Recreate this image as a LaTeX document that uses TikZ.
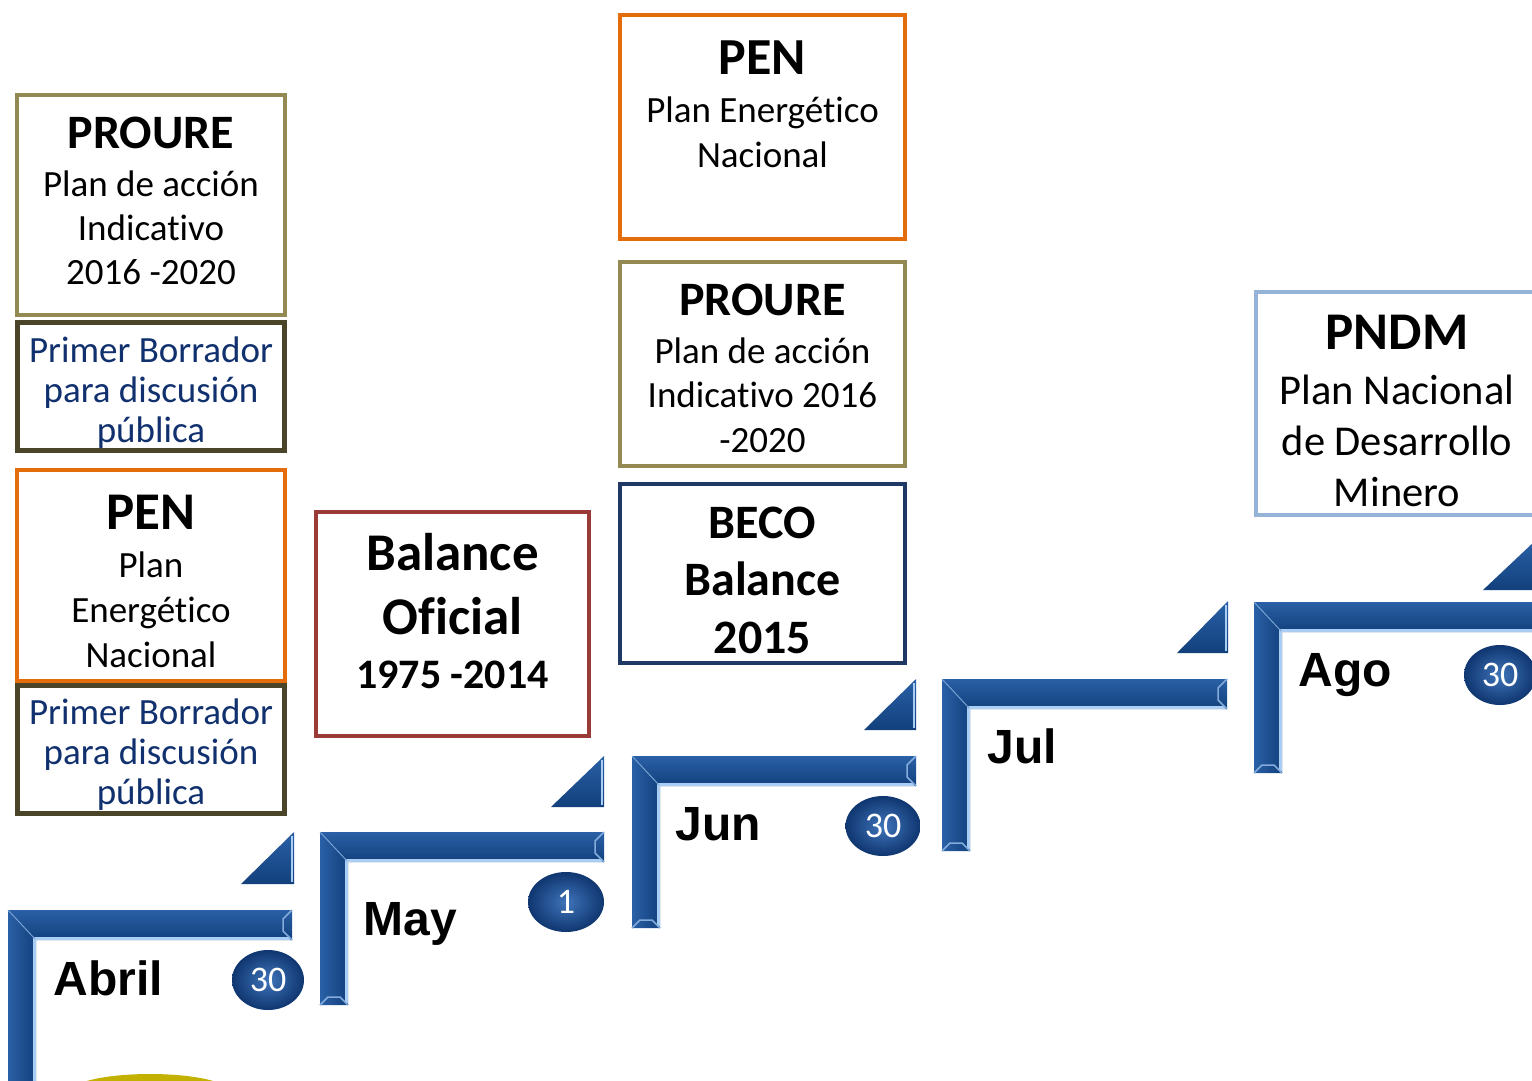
\documentclass[tikz,border=0pt]{standalone}
\usepackage{fontspec}
\setmainfont{Carlito}[Ligatures=NoCommon]
\newfontfamily\monthfont{Liberation Sans}
\usepackage{tikz}
\usetikzlibrary{shapes.geometric, calc}

\definecolor{proureolive}{HTML}{938953}
\definecolor{draftolive}{HTML}{4A4529}
\definecolor{penorange}{HTML}{E46C0A}
\definecolor{balancered}{HTML}{9B3B38}
\definecolor{beconavy}{HTML}{1F3864}
\definecolor{pndmblue}{HTML}{95B3D7}
\definecolor{drafttext}{HTML}{10306E}
\definecolor{bardark}{HTML}{12407C}
\definecolor{barmid}{HTML}{2A60A6}
\definecolor{barlight}{HTML}{A9CDF3}
\definecolor{balllight}{HTML}{3F74BA}
\definecolor{balldark}{HTML}{0F3670}
\definecolor{arcyellow}{HTML}{C2B100}

\newcommand{\boxhead}[2]{{\fontsize{#1}{#1}\selectfont\bfseries #2}}

\tikzset{
  plainbox/.style={draw, line width=4pt, inner sep=0pt, outer sep=0pt, fill=white},
  draftbox/.style={plainbox, draw=draftolive, line width=5pt,
    minimum width=267pt, minimum height=128pt},
  boxtext/.style={align=center, inner sep=0pt},
  drafttext/.style={boxtext, text=drafttext, font=\fontsize{37}{40}\selectfont},
  month/.style={anchor=base west, font=\monthfont\bfseries\fontsize{48}{48}\selectfont},
  daydot/.style={ellipse, shading=radial, inner color=balllight, outer color=balldark,
    text=white, inner sep=0pt, minimum width=72pt, minimum height=60pt,
    font=\fontsize{36}{36}\selectfont}
}

\begin{document}
\begin{tikzpicture}[x=1pt,y=-1pt]
  \useasboundingbox (0,0) rectangle (1532,1080);
  \clip (0,0) rectangle (1532,1080);

  % yellow arc at the bottom
  \fill[arcyellow] (150,1092) ellipse (80 and 18);

  % Define boxes
  \node[plainbox, draw=proureolive, minimum width=268pt, minimum height=220pt] (proureA) at (151,205) {};
  \node[draftbox] (draftA) at (151,386.5) {};
  \node[plainbox, draw=penorange, minimum width=268pt, minimum height=211pt] (penA) at (151,575.5) {};
  \node[draftbox] (draftB) at (151,749.5) {};
  \node[plainbox, draw=balancered, minimum width=273pt, minimum height=224pt] (balance) at (452.5,624) {};
  \node[plainbox, draw=penorange, minimum width=285pt, minimum height=224pt] (penB) at (762.5,127) {};
  \node[plainbox, draw=proureolive, minimum width=285pt, minimum height=204pt] (proureB) at (762.5,364) {};
  \node[plainbox, draw=beconavy, minimum width=285pt, minimum height=179pt] (beco) at (762.5,573.5) {};
  \node[plainbox, draw=pndmblue, minimum width=282pt, minimum height=223pt] (pndm) at (1397,403.5) {};

  % Box texts
  \node[boxtext, font=\fontsize{37}{44}\selectfont] (proureAtext) at ([yshift=4pt]proureA.center)
    {\boxhead{48}{PROURE}\\[3.5pt] Plan de acción\\ Indicativo\\ 2016 -2020};
  \node[drafttext] (draftAtext) at ([yshift=-6pt]draftA.center) {Primer Borrador\\ para discusión\\ pública};
  \node[boxtext, font=\fontsize{37}{45}\selectfont] (penAtext) at ([yshift=-5.5pt]penA.center)
    {\boxhead{53}{PEN}\\[3pt] Plan\\ Energético\\ Nacional};
  \node[drafttext] (draftBtext) at ([yshift=-5.5pt]draftB.center) {Primer Borrador\\ para discusión\\ pública};
  \node[boxtext, font=\bfseries\fontsize{42}{54}\selectfont] (balancetext) at ([yshift=12.5pt]balance.center)
    {\boxhead{53}{Balance}\\[10pt] \boxhead{53}{Oficial}\\ 1975 -2014};
  \node[boxtext, font=\fontsize{37}{45}\selectfont] (penBtext) at ([yshift=23pt]penB.center)
    {\boxhead{52}{PEN}\\[3pt] Plan Energético\\ Nacional};
  \node[boxtext, font=\fontsize{37}{44.5}\selectfont] (proureBtext) at ([yshift=-4.5pt]proureB.center)
    {\boxhead{48}{PROURE}\\[3pt] Plan de acción\\ Indicativo 2016\\ -2020};
  \node[boxtext, font=\bfseries\fontsize{48}{57.5}\selectfont] (becotext) at ([yshift=-6.5pt]beco.center)
    {BECO\\ Balance\\ 2015};
  \node[boxtext, font=\fontsize{42.5}{51}\selectfont] (pndmtext) at ([yshift=-7.5pt]pndm.center)
    {\boxhead{53}{PNDM}\\[4pt] Plan Nacional\\ de Desarrollo\\ Minero};

  % Steps
  \foreach \xa/\ya/\xb/\yb in {8/910/292/1090, 320/832/604/1005, 632/756/916/928,
                               942/679/1227/851, 1254/602/1545/773} {
    \shade[top color=barmid, bottom color=bardark]
      (\xa,\ya) -- (\xb,\ya) -- (\xb,{\ya+30}) -- ({\xa+28},{\ya+30}) -- cycle;
    \shade[left color=barmid, right color=bardark]
      (\xa,\ya) -- ({\xa+28},{\ya+30}) -- ({\xa+28},\yb) -- (\xa,\yb) -- cycle;
    \draw[barlight, line width=3pt] ({\xb-2},{\ya+28.5}) -- ({\xa+26.5},{\ya+28.5}) -- ({\xa+26.5},{\yb-2});
    \draw[barlight!60!barmid, line width=1pt] (\xa,\ya) -- ({\xa+27},{\ya+29});
    \draw[barlight!70!barmid, line width=1.5pt] (\xb,\ya) -- ({\xb-9},{\ya+9}) -- ({\xb-9},{\ya+21}) -- (\xb,{\ya+30});
    \draw[barlight!70!barmid, line width=1.5pt] (\xa,\yb) -- ({\xa+8},{\yb-8}) -- ({\xa+20},{\yb-8}) -- ({\xa+28},\yb);
  }
  \foreach \xl/\yb/\xr/\yt in {241/884/294/832, 551/807/604/756, 864/730/916/679,
                               1177/653/1228/601, 1483/590/1536/540} {
    \shade[top color=barmid, bottom color=bardark] (\xl,\yb) -- (\xr,\yb) -- (\xr,\yt) -- cycle;
    \draw[barlight, line width=2.5pt] ({\xr-2},{\yt+4}) -- ({\xr-2},{\yb-2});
  }

  % Months
  \node[month] (abril) at (50,995) {Abril};
  \node[month] (may) at (360,935) {May};
  \node[month] (jun) at (672,840) {Jun};
  \node[month] (jul) at (984,763) {Jul};
  \node[month] (ago) at (1295,686) {Ago};

  % Days
  \node[daydot] (dayAbril) at (268,980) {30};
  \node[daydot, minimum width=76pt] (dayMay) at (566,902) {1};
  \node[daydot, minimum width=75pt] (dayJun) at (883,826) {30};
  \node[daydot] (dayAgo) at (1500,675) {30};
\end{tikzpicture}
\end{document}
